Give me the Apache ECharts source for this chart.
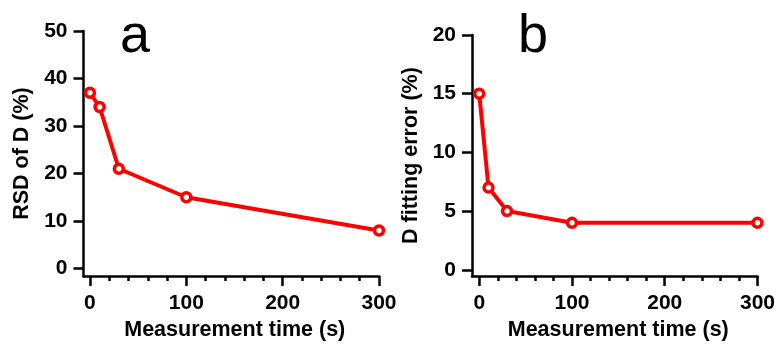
<!DOCTYPE html>
<html>
<head>
<meta charset="utf-8">
<script src="https://cdn.jsdelivr.net/npm/echarts@6/dist/echarts.min.js"></script>
<style>
html,body{margin:0;padding:0;background:#fff;}
#chart{width:778px;height:346px;}
</style>
</head>
<body>
<div id="chart"></div>
<script>
// ---- data ----
var measurementTime = [0, 10, 30, 100, 300];
var rsdOfD = [37, 34, 21, 15, 8];
var fittingError = [15, 7, 5, 4, 4];
var xMajorTicks = [0, 100, 200, 300];
var xMinorTicks = [20, 40, 60, 80, 120, 140, 160, 180, 220, 240, 260, 280];
var yTicksA = [0, 10, 20, 30, 40, 50];
var yTicksB = [0, 5, 10, 15, 20];
var panelLetters = ['a', 'b'];
var xName = 'Measurement time (s)';
var yNameA = 'RSD of D (%)';
var yNameB = 'D fitting error (%)';

var FONT = '"Liberation Sans", Arial, Helvetica, sans-serif';
var RED = '#ff0000';

function pairs(xs, ys) { return xs.map(function (x, i) { return [x, ys[i]]; }); }

var chart = echarts.init(document.getElementById('chart'), null, { renderer: 'canvas' });

function xMain(gridIndex, min) {
  return {
    type: 'value', gridIndex: gridIndex, position: 'bottom', min: min, max: 300,
    name: xName, nameLocation: 'middle', nameGap: 37,
    nameTextStyle: { fontFamily: FONT, fontWeight: 'bold', fontSize: 21.5, color: '#000', padding: [0, 0, 0, 7] },
    axisLine: { show: true, onZero: false, lineStyle: { color: '#000', width: 2.5 } },
    axisTick: { show: true, length: 10, customValues: xMajorTicks, lineStyle: { color: '#000', width: 2.5 } },
    axisLabel: { show: true, margin: 17, customValues: xMajorTicks, fontFamily: FONT, fontWeight: 'bold', fontSize: 21, color: '#000' },
    splitLine: { show: false }
  };
}
function xMinor(gridIndex, min) {
  return {
    type: 'value', gridIndex: gridIndex, position: 'bottom', offset: 0, min: min, max: 300,
    axisLine: { show: false, onZero: false },
    axisTick: { show: true, length: 5, customValues: xMinorTicks, lineStyle: { color: '#000', width: 2.5 } },
    axisLabel: { show: false },
    splitLine: { show: false }
  };
}
function yAxis(gridIndex, min, max, ticks, name, margin) {
  return {
    type: 'value', gridIndex: gridIndex, position: 'left', min: min, max: max,
    name: name, nameLocation: 'middle', nameGap: 50,
    nameTextStyle: { fontFamily: FONT, fontWeight: 'bold', fontSize: 21.5, color: '#000' },
    axisLine: { show: true, onZero: false, lineStyle: { color: '#000', width: 2.5 } },
    axisTick: { show: true, length: 10, customValues: ticks, lineStyle: { color: '#000', width: 2.5 } },
    axisLabel: { show: true, margin: margin, customValues: ticks, fontFamily: FONT, fontWeight: 'bold', fontSize: 21, color: '#000' },
    splitLine: { show: false }
  };
}
function lineSeries(xi, yi, data) {
  return {
    type: 'line', xAxisIndex: xi, yAxisIndex: yi, data: data,
    symbol: 'circle', symbolSize: 9, showSymbol: true,
    lineStyle: { color: RED, width: 4 },
    itemStyle: { color: '#fff', borderColor: RED, borderWidth: 3.5 },
    emphasis: { disabled: true }, animation: false
  };
}

chart.setOption({
  animation: false,
  backgroundColor: '#fff',
  grid: [
    { left: 83.5, right: 399, top: 31, bottom: 65, containLabel: false },
    { left: 472, right: 19.5, top: 35, bottom: 65, containLabel: false }
  ],
  xAxis: [xMain(0, -6.7), xMinor(0, -6.7), xMain(1, -7.8), xMinor(1, -7.8)],
  yAxis: [
    yAxis(0, -1.6, 50, yTicksA, yNameA, 16),
    yAxis(1, -0.54, 20, yTicksB, yNameB, 16)
  ],
  series: [
    lineSeries(0, 0, pairs(measurementTime, rsdOfD)),
    lineSeries(2, 1, pairs(measurementTime, fittingError))
  ],
  graphic: [
    { type: 'text', left: 120, top: 10, style: { text: panelLetters[0], font: '54px ' + FONT, fill: '#000' } },
    { type: 'text', left: 518, top: 10, style: { text: panelLetters[1], font: '54px ' + FONT, fill: '#000' } }
  ]
});
</script>
</body>
</html>
